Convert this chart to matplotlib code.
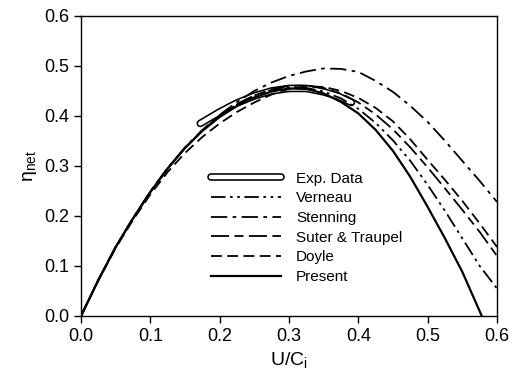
import matplotlib
matplotlib.use("Agg")
import matplotlib.pyplot as plt

plt.rcParams['font.family'] = ['Liberation Sans', 'DejaVu Sans']

present_x = [0.0, 0.025, 0.05, 0.075, 0.1, 0.125, 0.15, 0.175, 0.2, 0.225, 0.25, 0.275,
             0.3, 0.325, 0.35, 0.375, 0.4, 0.425, 0.45, 0.475, 0.5, 0.525, 0.55, 0.578]
present_y = [0.0, 0.072, 0.138, 0.195, 0.248, 0.295, 0.336, 0.37, 0.398, 0.42, 0.437, 0.449,
             0.455, 0.454, 0.445, 0.428, 0.405, 0.372, 0.33, 0.278, 0.218, 0.155, 0.088, 0.0]

model_x = [0.0, 0.025, 0.05, 0.075, 0.1, 0.125, 0.15, 0.175, 0.2, 0.225, 0.25, 0.275,
           0.3, 0.325, 0.35, 0.375, 0.4, 0.425, 0.45, 0.475, 0.5, 0.525, 0.55, 0.575, 0.6]
stenning_y = [0.0, 0.072, 0.138, 0.196, 0.249, 0.296, 0.337, 0.372, 0.402, 0.428, 0.45, 0.467,
              0.48, 0.489, 0.495, 0.494, 0.488, 0.47, 0.448, 0.42, 0.388, 0.35, 0.31, 0.27, 0.228]
doyle_y = [0.0, 0.071, 0.136, 0.192, 0.243, 0.288, 0.326, 0.358, 0.385, 0.408, 0.427, 0.443,
           0.454, 0.459, 0.458, 0.45, 0.436, 0.416, 0.389, 0.353, 0.312, 0.272, 0.23, 0.185, 0.138]
suter_y = [0.0, 0.072, 0.138, 0.195, 0.248, 0.295, 0.336, 0.371, 0.4, 0.423, 0.441, 0.453,
           0.46, 0.461, 0.456, 0.445, 0.427, 0.403, 0.373, 0.337, 0.297, 0.255, 0.212, 0.168, 0.12]
verneau_y = [0.0, 0.072, 0.138, 0.195, 0.248, 0.295, 0.336, 0.371, 0.4, 0.424, 0.441, 0.452,
             0.457, 0.456, 0.449, 0.435, 0.414, 0.386, 0.351, 0.31, 0.262, 0.21, 0.155, 0.1, 0.055]

exp_x = [0.172, 0.2, 0.225, 0.25, 0.275, 0.3, 0.325, 0.35, 0.37, 0.39]
exp_y = [0.385, 0.408, 0.426, 0.44, 0.45, 0.455, 0.455, 0.448, 0.44, 0.427]

fig = plt.figure(figsize=(5.21, 3.88), dpi=100)
ax = fig.add_axes([0.1555, 0.1856, 0.7985, 0.7734])

# Exp. data drawn as a hollow thick band
exp_outer, = ax.plot(exp_x, exp_y, color='black', lw=5.5, solid_capstyle='round')
exp_inner, = ax.plot(exp_x, exp_y, color='white', lw=3.2, solid_capstyle='round')

l_ver, = ax.plot(model_x, verneau_y, color='black', lw=1.3, ls=(0, (8, 2.5, 1.5, 2.5, 1.5, 2.5)))
l_ste, = ax.plot(model_x, stenning_y, color='black', lw=1.3, ls=(0, (9, 3, 2, 3)))
l_sut, = ax.plot(model_x, suter_y, color='black', lw=1.3, ls=(0, (10, 3, 5, 3)))
l_doy, = ax.plot(model_x, doyle_y, color='black', lw=1.3, ls=(0, (6, 3)))
l_pre, = ax.plot(present_x, present_y, color='black', lw=1.6)

ax.set_xlim(0, 0.6)
ax.set_ylim(0, 0.6)
ax.set_xticks([0.0, 0.1, 0.2, 0.3, 0.4, 0.5, 0.6])
ax.set_yticks([0.0, 0.1, 0.2, 0.3, 0.4, 0.5, 0.6])
ax.set_xticklabels(['0.0', '0.1', '0.2', '0.3', '0.4', '0.5', '0.6'])
ax.set_yticklabels(['0.0', '0.1', '0.2', '0.3', '0.4', '0.5', '0.6'])
ax.tick_params(direction='out', length=5, width=1, labelsize=13, pad=3.5)
for s in ax.spines.values():
    s.set_linewidth(1)

ax.set_xlabel(r'U/C$_\mathregular{i}$', fontsize=14, labelpad=4)
ax.set_ylabel(r'$\mathregular{\eta_{net}}$', fontsize=14, labelpad=4)

ax.legend([(exp_outer, exp_inner), l_ver, l_ste, l_sut, l_doy, l_pre],
          ['Exp. Data', 'Verneau', 'Stenning', 'Suter & Traupel', 'Doyle', 'Present'],
          loc='upper left', bbox_to_anchor=(0.293, 0.506), frameon=False,
          fontsize=11, handlelength=4.6, handletextpad=1.0, labelspacing=0.37,
          borderpad=0)

fig.savefig('out.png', dpi=100)
